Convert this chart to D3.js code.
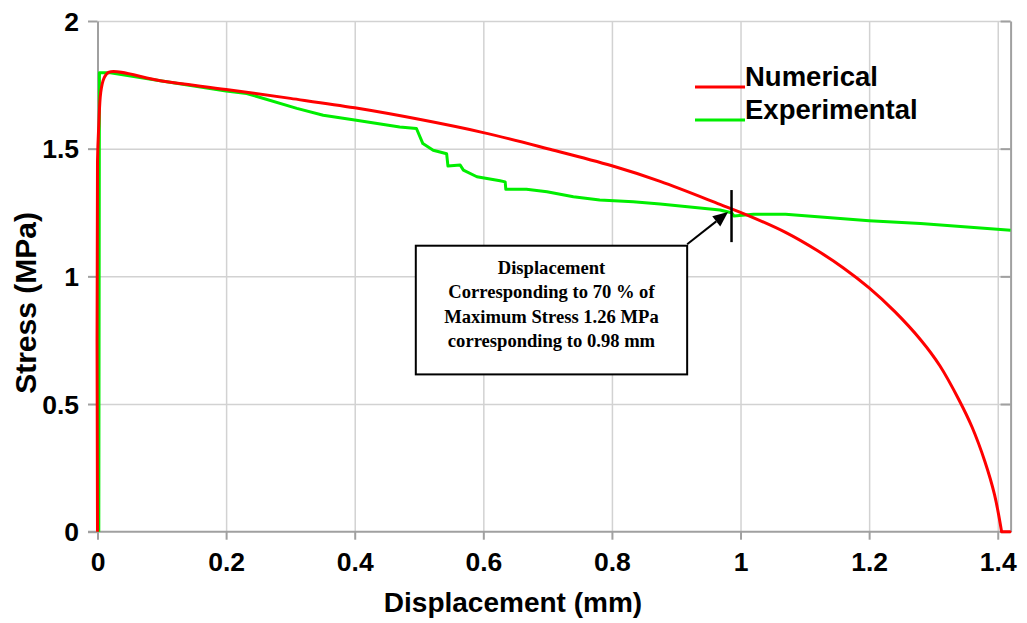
<!DOCTYPE html>
<html>
<head>
<meta charset="utf-8">
<script src="https://cdn.jsdelivr.net/npm/d3@7"></script>
<style>
  body { margin: 0; background: #fff; }
  svg text { font-family: "Liberation Sans", Arial, sans-serif; font-weight: bold; }
</style>
</head>
<body>
<div id="chart"></div>
<script>
// Numerical curve (displacement mm, stress MPa)
var numX = [0, 0.0, 0.002, 0.005, 0.01, 0.018, 0.1, 0.2, 0.3, 0.4, 0.5, 0.6, 0.7, 0.8, 0.875,
            0.968, 1.015, 1.07, 1.12, 1.16, 1.2, 1.24, 1.28, 1.31, 1.34, 1.36, 1.38, 1.395, 1.406, 1.419];
var numY = [0, 1.45, 1.59, 1.72, 1.775, 1.80, 1.765, 1.732, 1.697, 1.66, 1.615, 1.563, 1.5, 1.433, 1.372,
            1.282, 1.235, 1.172, 1.10, 1.033, 0.955, 0.862, 0.752, 0.65, 0.515, 0.41, 0.275, 0.145, 0, 0];

// Experimental curve
var expX = [0.002, 0.003, 0.02, 0.1, 0.2, 0.232, 0.31, 0.351, 0.4, 0.47, 0.496, 0.506, 0.522, 0.543, 0.545,
            0.564, 0.569, 0.59, 0.626, 0.634, 0.635, 0.667, 0.699, 0.74, 0.781, 0.833, 0.875, 0.968, 0.986,
            0.99, 1.02, 1.07, 1.2, 1.28, 1.42];
var expY = [0, 1.797, 1.797, 1.765, 1.726, 1.716, 1.658, 1.631, 1.612, 1.585, 1.579, 1.52, 1.494, 1.48, 1.432,
            1.436, 1.416, 1.39, 1.374, 1.37, 1.341, 1.341, 1.331, 1.312, 1.299, 1.292, 1.283, 1.26, 1.249,
            1.236, 1.243, 1.243, 1.218, 1.207, 1.181];

var xTicks = [0, 0.2, 0.4, 0.6, 0.8, 1, 1.2, 1.4];
var yTicks = [0, 0.5, 1, 1.5, 2];
var seriesNames = ["Numerical", "Experimental"];
var seriesColors = ["#ff0000", "#00ee00"];

// annotation (data coords)
var noteLines = ["Displacement", "Corresponding to 70 % of", "Maximum Stress 1.26 MPa", "corresponding to 0.98 mm"];
var noteBox = {x0: 0.495, x1: 0.917, y0: 1.12, y1: 0.616};
var arrowFrom = [0.917, 1.126], arrowTo = [0.9806, 1.2517];
var markX = 0.986, markY = [1.134, 1.338];

var width = 1027, height = 623;
var plotL = 97.5, plotR = 1010.6, plotT = 21, plotB = 531.7;

var svg = d3.select("#chart").append("svg")
    .attr("width", width)
    .attr("height", height);

var x = d3.scaleLinear().domain([0, 1.42]).range([plotL, plotR]);
var y = d3.scaleLinear().domain([0, 2]).range([plotB, plotT]);

// grid
svg.append("g")
    .attr("transform", "translate(0," + plotB + ")")
    .call(d3.axisBottom(x).tickValues(xTicks.slice(1)).tickSize(-(plotB - plotT)).tickFormat(""))
    .call(function(g) {
        g.select(".domain").remove();
        g.selectAll("line").attr("stroke", "#d2d2d2").attr("stroke-width", 1.5);
    });
svg.append("g")
    .attr("transform", "translate(" + plotL + ",0)")
    .call(d3.axisLeft(y).tickValues(yTicks.slice(1)).tickSize(-(plotR - plotL)).tickFormat(""))
    .call(function(g) {
        g.select(".domain").remove();
        g.selectAll("line").attr("stroke", "#d2d2d2").attr("stroke-width", 1.5);
    });

// right border with inward ticks
svg.append("g")
    .attr("transform", "translate(" + plotR + ",0)")
    .call(d3.axisRight(y).tickValues(yTicks).tickSize(-10).tickSizeOuter(0).tickFormat(""))
    .call(function(g) {
        g.select(".domain").attr("stroke", "#a0a0a0").attr("stroke-width", 2);
        g.selectAll("line").attr("stroke", "#a0a0a0").attr("stroke-width", 2);
    });

// bottom axis
svg.append("g")
    .attr("transform", "translate(0," + plotB + ")")
    .call(d3.axisBottom(x).tickValues(xTicks).tickSize(8).tickSizeOuter(0).tickFormat(function(d) { return String(d); }))
    .call(function(g) {
        g.select(".domain").attr("stroke", "#a0a0a0").attr("stroke-width", 2)
            .attr("d", "M" + (plotL - 9.5) + ",0H" + plotR);
        g.selectAll("line").attr("stroke", "#a0a0a0").attr("stroke-width", 2);
        g.selectAll("text").attr("y", 39).attr("dy", 0)
            .attr("fill", "#000").style("font-size", "26.5px");
    });

// left axis
svg.append("g")
    .attr("transform", "translate(" + plotL + ",0)")
    .call(d3.axisLeft(y).tickValues(yTicks).tickSize(9.5).tickSizeOuter(0).tickFormat(function(d) { return String(d); }))
    .call(function(g) {
        g.select(".domain").attr("stroke", "#a0a0a0").attr("stroke-width", 2);
        g.selectAll("line").attr("stroke", "#a0a0a0").attr("stroke-width", 2);
        g.selectAll("text").attr("x", -18.5).attr("dy", "0.35em")
            .attr("fill", "#000").style("font-size", "26.5px");
    });

// axis titles
svg.append("text")
    .attr("x", 513).attr("y", 612)
    .attr("text-anchor", "middle")
    .style("font-size", "28px")
    .text("Displacement (mm)");
svg.append("text")
    .attr("transform", "translate(36,303) rotate(-90)")
    .attr("text-anchor", "middle")
    .style("font-size", "30px")
    .text("Stress (MPa)");

// curves
var line = d3.line()
    .x(function(d) { return x(d[0]); })
    .y(function(d) { return y(d[1]); });
var smooth = d3.line()
    .x(function(d) { return x(d[0]); })
    .y(function(d) { return y(d[1]); })
    .curve(d3.curveCatmullRom.alpha(0.5));

var expData = expX.map(function(v, i) { return [v, expY[i]]; });
var numData = numX.map(function(v, i) { return [v, numY[i]]; });

svg.append("path")
    .datum(expData)
    .attr("d", line)
    .attr("fill", "none")
    .attr("stroke", seriesColors[1])
    .attr("stroke-width", 3)
    .attr("stroke-linejoin", "round");

// smooth body, then the flat tail after failure drawn straight
var nLast = numData.length - 1;
svg.append("path")
    .datum(numData.slice(0, nLast))
    .attr("d", smooth)
    .attr("fill", "none")
    .attr("stroke", seriesColors[0])
    .attr("stroke-width", 3)
    .attr("stroke-linejoin", "round");
svg.append("path")
    .datum(numData.slice(nLast - 1))
    .attr("d", line)
    .attr("fill", "none")
    .attr("stroke", seriesColors[0])
    .attr("stroke-width", 3)
    .attr("stroke-linecap", "round");

// legend
var legend = svg.append("g");
seriesNames.forEach(function(name, i) {
    var ly = 87 + i * 33;
    legend.append("line")
        .attr("x1", 695).attr("x2", 745)
        .attr("y1", ly).attr("y2", ly)
        .attr("stroke", seriesColors[i]).attr("stroke-width", 3);
    legend.append("text")
        .attr("x", 745).attr("y", ly - 1.5)
        .style("font-size", "27.5px")
        .text(name);
});

// annotation marker + arrow + box
svg.append("line")
    .attr("x1", x(markX)).attr("x2", x(markX))
    .attr("y1", y(markY[0])).attr("y2", y(markY[1]))
    .attr("stroke", "#000").attr("stroke-width", 2.5);

var ax0 = x(arrowFrom[0]), ay0 = y(arrowFrom[1]);
var ax1 = x(arrowTo[0]), ay1 = y(arrowTo[1]);
var ang = Math.atan2(ay1 - ay0, ax1 - ax0);
var headLen = 15, headW = 6.5;
var bx = ax1 - headLen * Math.cos(ang), by = ay1 - headLen * Math.sin(ang);
svg.append("line")
    .attr("x1", ax0).attr("y1", ay0).attr("x2", bx).attr("y2", by)
    .attr("stroke", "#000").attr("stroke-width", 2);
svg.append("path")
    .attr("d", "M" + ax1 + "," + ay1 +
        "L" + (bx + headW * Math.sin(ang)) + "," + (by - headW * Math.cos(ang)) +
        "L" + (bx - headW * Math.sin(ang)) + "," + (by + headW * Math.cos(ang)) + "Z")
    .attr("fill", "#000");

svg.append("rect")
    .attr("x", x(noteBox.x0)).attr("y", y(noteBox.y0))
    .attr("width", x(noteBox.x1) - x(noteBox.x0))
    .attr("height", y(noteBox.y1) - y(noteBox.y0))
    .attr("fill", "#fff").attr("stroke", "#000").attr("stroke-width", 2);

var note = svg.append("text")
    .attr("text-anchor", "middle")
    .style("font-family", "'Liberation Serif', 'Times New Roman', serif")
    .style("font-size", "18.6px");
noteLines.forEach(function(t, i) {
    note.append("tspan")
        .attr("x", (x(noteBox.x0) + x(noteBox.x1)) / 2)
        .attr("y", y(noteBox.y0) + 28 + i * 24.5)
        .text(t);
});
</script>
</body>
</html>
